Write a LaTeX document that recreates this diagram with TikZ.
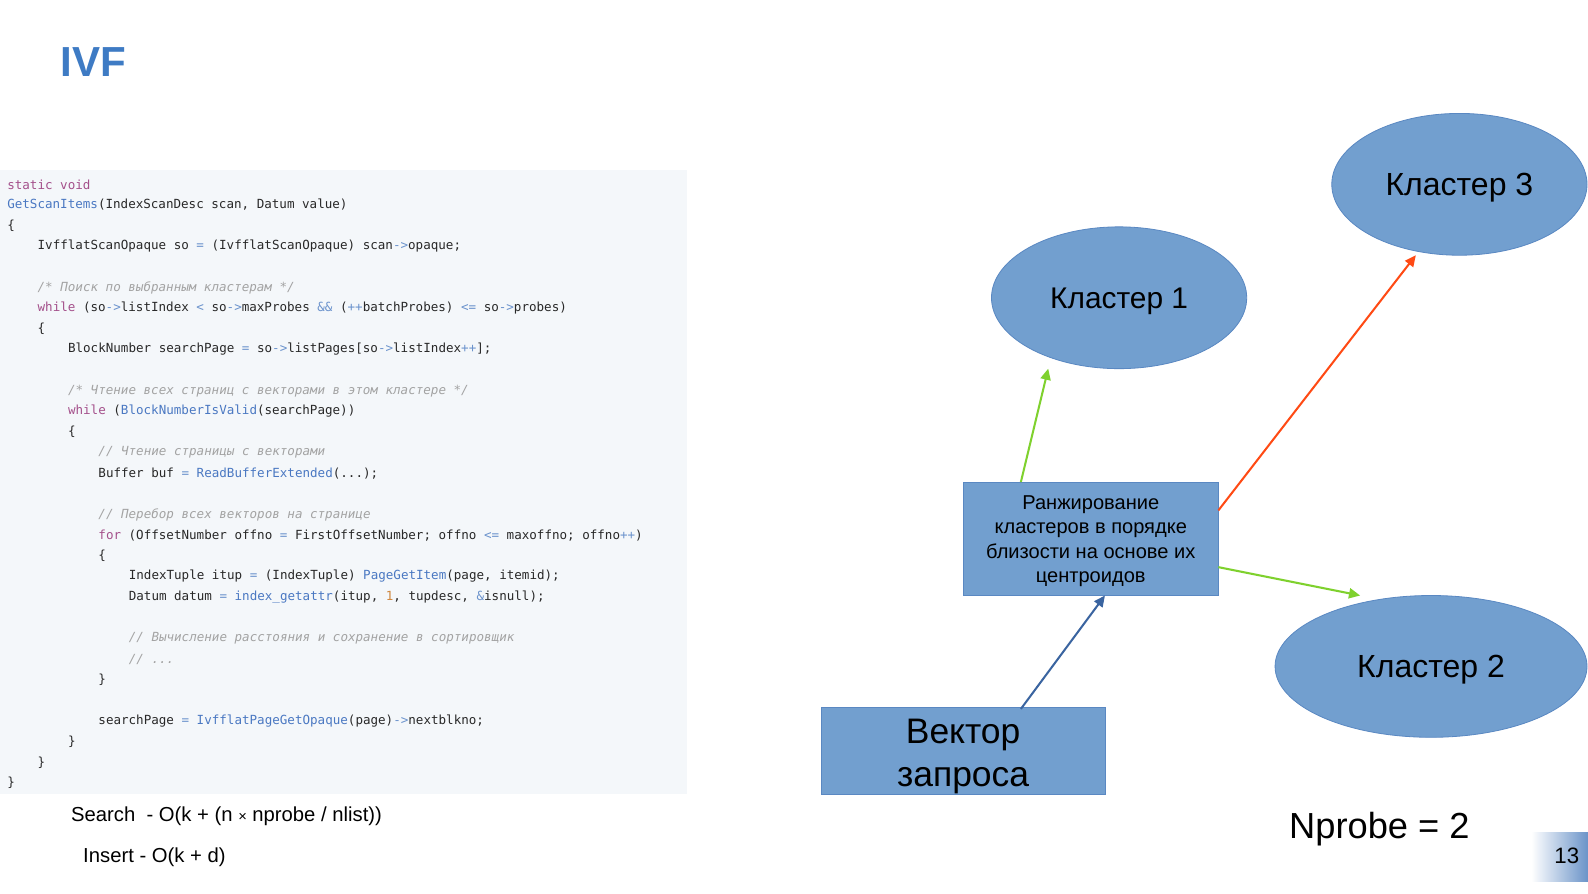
\documentclass[tikz,border=0pt]{standalone}
\usepackage{fontspec}
\setmainfont{Liberation Sans}
\setmonofont{DejaVu Sans Mono}
\usetikzlibrary{arrows.meta,shapes.geometric}
\definecolor{codebg}{HTML}{F4F7FA}
\definecolor{ckw}{HTML}{A4508B}
\definecolor{cfn}{HTML}{4A78C2}
\definecolor{cop}{HTML}{6A92CC}
\definecolor{ccm}{HTML}{A3A3A3}
\definecolor{cnum}{HTML}{D08840}
\definecolor{ctxt}{HTML}{282828}
\definecolor{titleblue}{HTML}{3E7BC4}
\definecolor{boxfill}{HTML}{729FCF}
\definecolor{boxdraw}{HTML}{5A88C2}
\definecolor{agreen}{HTML}{7FD12E}
\definecolor{ared}{HTML}{FF4A14}
\definecolor{ablue}{HTML}{3A64A0}
\definecolor{pgblue}{HTML}{6A93C8}
\newcommand{\kw}[1]{\textcolor{ckw}{#1}}
\newcommand{\fn}[1]{\textcolor{cfn}{#1}}
\newcommand{\op}[1]{\textcolor{cop}{#1}}
\newcommand{\cm}[1]{\textcolor{ccm}{\itshape #1}}
\newcommand{\nm}[1]{\textcolor{cnum}{#1}}
\tikzset{
  codeline/.style={anchor=west,inner sep=0pt,text=ctxt,font=\ttfamily\fontsize{12.4}{14}\selectfont},
  cluster/.style={ellipse,fill=boxfill,draw=boxdraw,line width=0.8pt,minimum width=#1,minimum height=140pt,inner sep=0pt,text depth=0pt},
  rankbox/.style={rectangle,fill=boxfill,draw=boxdraw,line width=0.8pt,inner sep=0pt},
  arr/.style={line width=2pt,-{Triangle[length=11pt,width=10pt]}},
}
\begin{document}
\begin{tikzpicture}[x=1pt,y=-1pt]
\useasboundingbox (0,0) rectangle (1568,881.8);
\fill[white] (0,0) rectangle (1568,881.8);
% title
\node[anchor=west,inner sep=0pt,text=titleblue,font=\bfseries\fontsize{41.5}{48}\selectfont] (title) at (60,61) {IVF};
% code panel
\fill[codebg] (0,168) rectangle (678,784);
\def\L{20.38}
\def\Y{182}
\node[codeline] (c1) at (7,\Y) {\kw{static void}};
\node[codeline] (c2) at (7,\Y+1*\L) {\fn{GetScanItems}(IndexScanDesc scan, Datum value)};
\node[codeline] (c3) at (7,\Y+2*\L) {\{};
\node[codeline] (c4) at (37,\Y+3*\L) {IvfflatScanOpaque so \op{=} (IvfflatScanOpaque) scan\op{->}opaque;};
\node[codeline] (c6) at (37,\Y+5*\L) {\cm{/* Поиск по выбранным кластерам */}};
\node[codeline] (c7) at (37,\Y+6*\L) {\kw{while} (so\op{->}listIndex \op{<} so\op{->}maxProbes \op{\&\&} (\op{++}batchProbes) \op{<=} so\op{->}probes)};
\node[codeline] (c8) at (37,\Y+7*\L) {\{};
\node[codeline] (c9) at (67,\Y+8*\L) {BlockNumber searchPage \op{=} so\op{->}listPages[so\op{->}listIndex\op{++}];};
\node[codeline] (c11) at (67,\Y+10*\L) {\cm{/* Чтение всех страниц с векторами в этом кластере */}};
\node[codeline] (c12) at (67,\Y+11*\L) {\kw{while} (\fn{BlockNumberIsValid}(searchPage))};
\node[codeline] (c13) at (67,\Y+12*\L) {\{};
\node[codeline] (c14) at (97,\Y+13*\L) {\cm{// Чтение страницы с векторами}};
\node[codeline] (c15) at (97,\Y+14*\L) {Buffer buf \op{=} \fn{ReadBufferExtended}(...);};
\node[codeline] (c17) at (97,\Y+16*\L) {\cm{// Перебор всех векторов на странице}};
\node[codeline] (c18) at (97,\Y+17*\L) {\kw{for} (OffsetNumber offno \op{=} FirstOffsetNumber; offno \op{<=} maxoffno; offno\op{++})};
\node[codeline] (c19) at (97,\Y+18*\L) {\{};
\node[codeline] (c20) at (127,\Y+19*\L) {IndexTuple itup \op{=} (IndexTuple) \fn{PageGetItem}(page, itemid);};
\node[codeline] (c21) at (127,\Y+20*\L) {Datum datum \op{=} \fn{index\_getattr}(itup, \nm{1}, tupdesc, \op{\&}isnull);};
\node[codeline] (c23) at (127,\Y+22*\L) {\cm{// Вычисление расстояния и сохранение в сортировщик}};
\node[codeline] (c24) at (127,\Y+23*\L) {\cm{// ...}};
\node[codeline] (c25) at (97,\Y+24*\L) {\}};
\node[codeline] (c27) at (97,\Y+26*\L) {searchPage \op{=} \fn{IvfflatPageGetOpaque}(page)\op{->}nextblkno;};
\node[codeline] (c28) at (67,\Y+27*\L) {\}};
\node[codeline] (c29) at (37,\Y+28*\L) {\}};
\node[codeline] (c30) at (7,\Y+29*\L) {\}};
% complexity
\node[anchor=west,inner sep=0pt,font=\fontsize{20}{24}\selectfont] (search) at (70,806) {Search \ - O(k + (n {\fontsize{14.5}{15}\selectfont×} nprobe / nlist))};
\node[anchor=west,inner sep=0pt,font=\fontsize{20}{24}\selectfont] (insert) at (82,846) {Insert - O(k + d)};
% diagram
\node[cluster=252pt,font=\fontsize{31.6}{36}\selectfont,text height=22.6pt] (k3) at (1441,182) {Кластер 3};
\node[cluster=252pt,font=\fontsize{29.5}{34}\selectfont,text height=21.1pt] (k1) at (1105,294) {Кластер 1};
\node[cluster=308pt,font=\fontsize{31.6}{36}\selectfont,text height=22.6pt] (k2) at (1413,658) {Кластер 2};
\node[rankbox,minimum width=252pt,minimum height=112pt,align=center,font=\fontsize{19.8}{24}\selectfont] (rank) at (1077,532) {\rule{0pt}{18.5pt}Ранжирование\\кластеров в порядке\\близости на основе их\\центроидов};
\node[rankbox,minimum width=280pt,minimum height=83pt,align=center,font=\fontsize{35}{43}\selectfont] (vec) at (951,741.5) {\rule{0pt}{35pt}Вектор\\запроса};
\node[inner sep=0pt,font=\fontsize{35.8}{40}\selectfont] (np) at (1362,819) {Nprobe = 2};
% arrows
\coordinate (rtop) at (1008,476);
\coordinate (k1b) at (1035,364);
\coordinate (rright1) at (1203,504);
\coordinate (k3b) at (1398,252);
\coordinate (rright2) at (1203,560);
\coordinate (k2t) at (1343,588);
\coordinate (vtop) at (1008,700);
\coordinate (rbot) at (1091,588);
\draw[arr,agreen] (rtop) -- (k1b);
\draw[arr,ared] (rright1) -- (k3b);
\draw[arr,agreen] (rright2) -- (k2t);
\draw[arr,ablue] (vtop) -- (rbot);
% page number
\shade[left color=white,right color=pgblue] (1512,822) rectangle (1568,870);
\node[inner sep=0pt,font=\fontsize{22}{26}\selectfont] (pg) at (1547,845) {13};
\end{tikzpicture}
\end{document}
